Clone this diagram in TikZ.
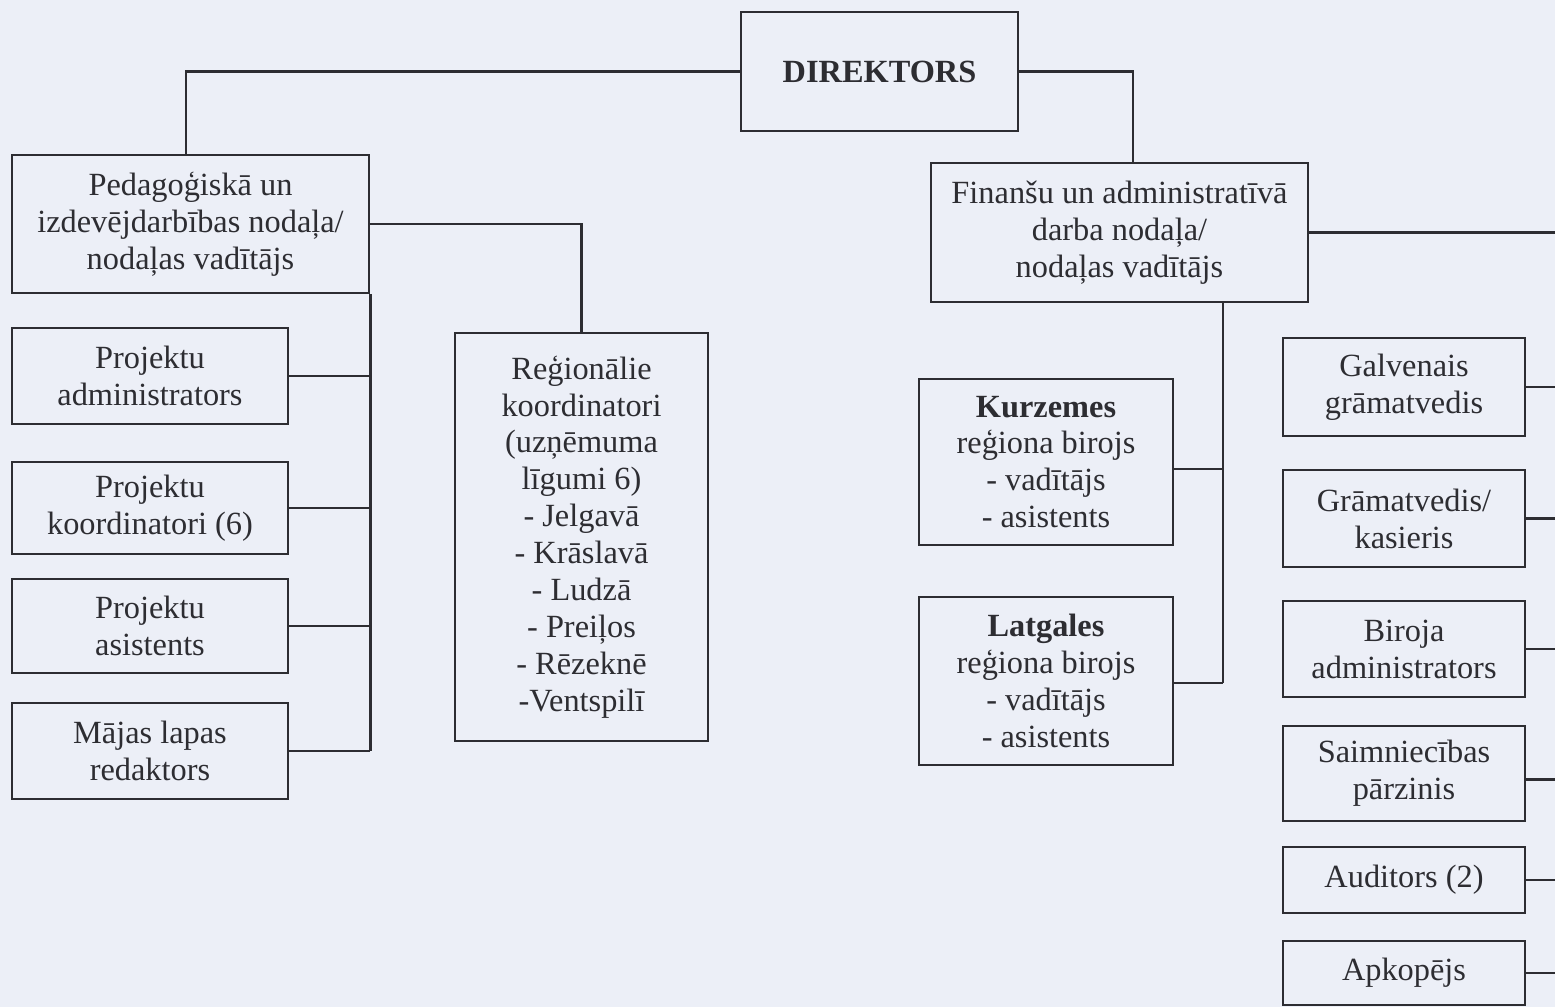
\documentclass[tikz,border=0pt]{standalone}
\usepackage{fontspec}
\setmainfont{Liberation Serif}
\definecolor{paper}{RGB}{236,239,247}
\definecolor{ink}{RGB}{45,45,50}

\begin{document}
\begin{tikzpicture}[x=0.01cm,y=-0.01cm,
  box/.style={draw=ink, line width=0.7pt, text=ink, align=center, inner sep=0pt,
    font=\fontsize{9.2}{10.5}\selectfont},
  conn/.style={draw=ink, line width=0.7pt}]
\fill[paper] (0,0) rectangle (1555,1007);
\useasboundingbox (0,0) rectangle (1555,1007);
% top
\node[box, minimum width=2.77cm, minimum height=1.19cm] (dir) at (879.5,71.5) {\textbf{DIREKTORS}};
\node[box, minimum width=3.57cm, minimum height=1.38cm] (ped) at (190.5,224) {Pedagoģiskā un\\izdevējdarbības nodaļa/\\nodaļas vadītājs};
\node[box, minimum width=3.77cm, minimum height=1.39cm] (fin) at (1119.5,232.5) {Finanšu un administratīvā\\darba nodaļa/\\nodaļas vadītājs};
% left column
\node[box, minimum width=2.76cm, minimum height=0.96cm] (padm) at (150,376) {Projektu\\administrators};
\node[box, minimum width=2.76cm, minimum height=0.92cm] (pkoord) at (150,508) {Projektu\\koordinatori (6)};
\node[box, minimum width=2.76cm, minimum height=0.94cm] (pasist) at (150,626) {Projektu\\asistents};
\node[box, minimum width=2.76cm, minimum height=0.96cm] (majas) at (150,751) {Mājas lapas\\redaktors};
\node[box, minimum width=2.53cm, minimum height=4.08cm] (reg) at (581.5,537) {Reģionālie\\koordinatori\\(uzņēmuma\\līgumi 6)\\- Jelgavā\\- Krāslavā\\- Ludzā\\- Preiļos\\- Rēzeknē\\-Ventspilī};
% regional offices
\node[box, minimum width=2.54cm, minimum height=1.66cm] (kurz) at (1046,462) {\textbf{Kurzemes}\\reģiona birojs\\- vadītājs\\- asistents};
\node[box, minimum width=2.54cm, minimum height=1.68cm] (latg) at (1046,681) {\textbf{Latgales}\\reģiona birojs\\- vadītājs\\- asistents};
% right column
\node[box, minimum width=2.42cm, minimum height=0.98cm] (galv) at (1404,387) {Galvenais\\grāmatvedis};
\node[box, minimum width=2.42cm, minimum height=0.97cm] (gramk) at (1404,518.5) {Grāmatvedis/\\kasieris};
\node[box, minimum width=2.42cm, minimum height=0.96cm] (birad) at (1404,649) {Biroja\\administrators};
\node[box, minimum width=2.42cm, minimum height=0.95cm] (saimn) at (1404,773.5) {Saimniecības\\pārzinis};
\node[box, minimum width=2.42cm, minimum height=0.66cm] (audit) at (1404,880) {Auditors (2)};
\node[box, minimum width=2.42cm, minimum height=0.64cm] (apkop) at (1404,973) {Apkopējs};
% connectors
\draw[conn] (dir.west) -| ([xshift=-0.45mm]ped.north);
\draw[conn] (dir.east) -| ([xshift=1.35mm]fin.north);
\draw[conn] (ped.east) -| (reg.north);
\draw[conn] (ped.south east) -- (majas.east -| ped.east);
\foreach \n in {padm,pkoord,pasist,majas}
  \draw[conn] (\n.east) -- (\n.east -| ped.east);
\coordinate (fbus) at ([xshift=1.035cm]fin.south);
\draw[conn] (fbus) -- ([yshift=-0.2mm]latg.east -| fbus);
\draw[conn] ([yshift=-0.7mm]kurz.east) -- ([yshift=-0.7mm]kurz.east -| fbus);
\draw[conn] ([yshift=-0.2mm]latg.east) -- ([yshift=-0.2mm]latg.east -| fbus);
\coordinate (rbus) at (1555,0);
\draw[conn] (fin.east) -- (fin.east -| rbus);
\foreach \n in {galv,gramk,birad,audit,apkop}
  \draw[conn] (\n.east) -- (\n.east -| rbus);
\draw[conn] ([yshift=-0.6mm]saimn.east) -- ([yshift=-0.6mm]saimn.east -| rbus);
\end{tikzpicture}
\end{document}
